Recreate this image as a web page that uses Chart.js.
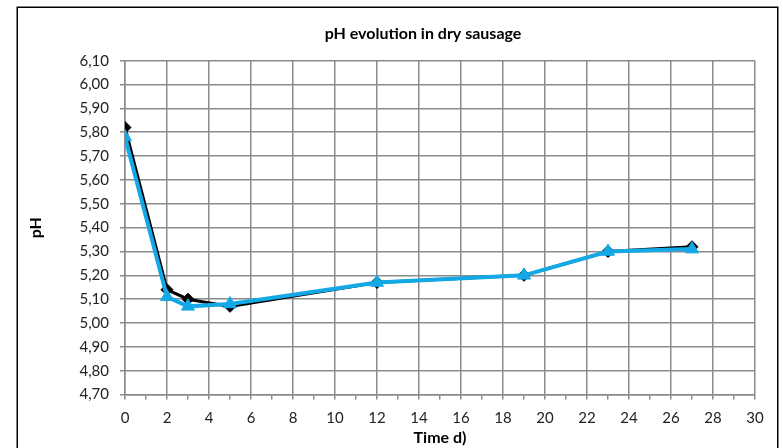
<!DOCTYPE html>
<html>
<head>
<meta charset="utf-8">
<script src="https://cdn.jsdelivr.net/npm/chart.js@4"></script>
<style>
html,body{margin:0;padding:0;background:#fff;}
#wrap{width:783px;height:448px;position:relative;}
</style>
</head>
<body>
<div id="wrap"><canvas id="c" width="783" height="448"></canvas></div>
<script>
// ---- data ----
const days = [0, 2, 3, 5, 12, 19, 23, 27];
const phBlack = [5.82, 5.14, 5.10, 5.07, 5.17, 5.20, 5.30, 5.32];
const phBlue  = [5.78, 5.11, 5.07, 5.08, 5.17, 5.20, 5.30, 5.31];
const chartTitle = 'pH evolution in dry sausage';
const xTitle = 'Time d)';
const yTitle = 'pH';
const yMin = 4.7, yMax = 6.1, yStep = 0.1;
const xMin = 0, xMax = 30, xLabelStep = 2;

const FONT = 'Lato, "Open Sans", sans-serif';
const GRID = '#8a8a8a';

const framePlugin = {
  id: 'frame',
  beforeDraw(chart) {
    const ctx = chart.ctx;
    ctx.save();
    ctx.fillStyle = '#fff';
    ctx.fillRect(0, 0, chart.width, chart.height);
    ctx.strokeStyle = '#000';
    ctx.lineWidth = 1.5;
    ctx.strokeRect(17.25, 7.25, 760.5, 460);
    ctx.restore();
  }
};

new Chart(document.getElementById('c'), {
  type: 'line',
  data: {
    datasets: [
      {
        label: 'blue',
        data: days.map((d, i) => ({x: d, y: phBlue[i]})),
        borderColor: '#14a9e6',
        backgroundColor: '#14a9e6',
        borderWidth: 4,
        pointStyle: 'triangle',
        pointRadius: 7.5,
        pointBorderWidth: 1,
        tension: 0
      },
      {
        label: 'black',
        data: days.map((d, i) => ({x: d, y: phBlack[i]})),
        borderColor: '#000',
        backgroundColor: '#000',
        borderWidth: 3,
        pointStyle: 'rectRot',
        pointRadius: 6,
        pointBorderWidth: 1,
        tension: 0
      }
    ]
  },
  options: {
    responsive: false,
    animation: false,
    layout: { padding: { left: 78, right: 15, top: 0, bottom: 0 } },
    plugins: {
      legend: { display: false },
      tooltip: { enabled: false },
      title: {
        display: true,
        text: chartTitle,
        color: '#000',
        font: { family: FONT, size: 16, weight: 'bold', lineHeight: 1.2 },
        padding: { top: 24.4, bottom: 17.1 }
      }
    },
    scales: {
      x: {
        type: 'linear',
        min: xMin, max: xMax,
        ticks: {
          stepSize: 1,
          autoSkip: false,
          maxRotation: 0,
          color: '#222',
          font: { family: FONT, size: 15 },
          padding: 10,
          callback: v => (v % xLabelStep === 0 ? String(v) : '')
        },
        grid: {
          color: ctx => (ctx.tick && ctx.tick.value % xLabelStep === 0 ? GRID : 'rgba(0,0,0,0)'),
          tickColor: GRID,
          lineWidth: 1.5,
          tickWidth: 1.5,
          tickLength: 5
        },
        border: { color: GRID, width: 1.5 },
        title: {
          display: true,
          text: xTitle,
          color: '#000',
          font: { family: FONT, size: 16, weight: 'bold', lineHeight: 1.2 },
          padding: { top: 0, bottom: 0.7 }
        },
        afterFit: s => { s.height = 53.4; }
      },
      y: {
        type: 'linear',
        min: yMin, max: yMax,
        ticks: {
          stepSize: yStep,
          color: '#222',
          font: { family: FONT, size: 15 },
          padding: 11,
          callback: v => v.toFixed(2).replace('.', ',')
        },
        grid: {
          color: GRID,
          tickColor: GRID,
          lineWidth: 1.5,
          tickWidth: 1.5,
          tickLength: 5
        },
        border: { color: GRID, width: 1.5 },
        title: {
          display: true,
          text: yTitle,
          color: '#000',
          font: { family: FONT, size: 16, weight: 'bold', lineHeight: 1.2 },
          padding: { top: -52.1, bottom: 0 }
        },
        afterFit: s => { s.width = 47; }
      },
      yRight: {
        type: 'linear',
        position: 'right',
        display: true,
        grid: { display: false, drawTicks: false },
        border: { display: false },
        ticks: { display: false },
        afterFit: s => { s.width = 13; }
      }
    }
  },
  plugins: [framePlugin]
});
</script>
</body>
</html>
